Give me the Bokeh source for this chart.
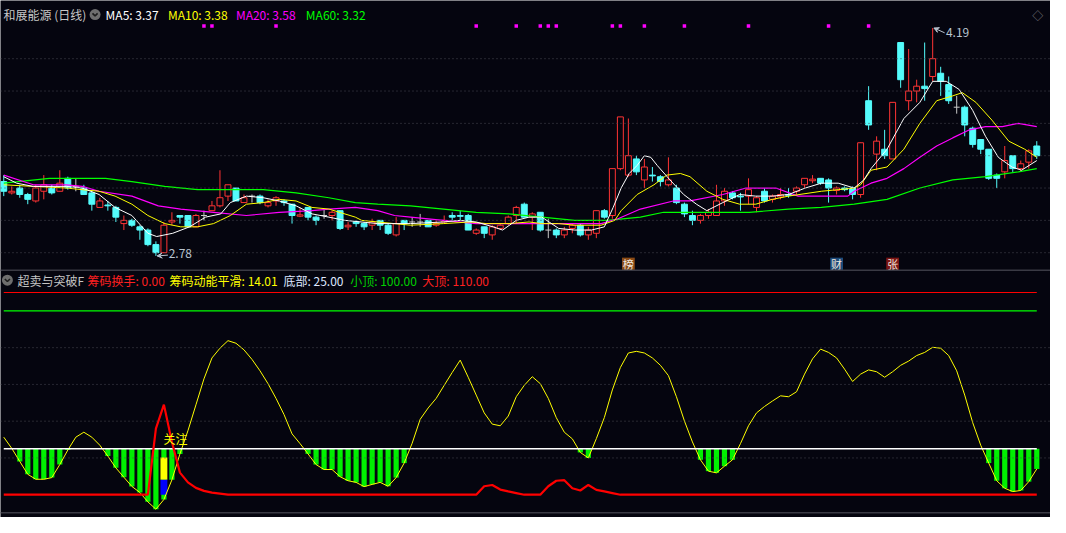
from bokeh.plotting import figure
from bokeh.models import Range1d, Label, Span, Arrow, VeeHead
from bokeh.embed import file_html
from bokeh.resources import INLINE
from bokeh.core.properties import value

# ---------------- data ----------------
open_ = [3.24, 3.17, 3.20, 3.16, 3.12, 3.18, 3.20, 3.18, 3.26, 3.21,
         3.20, 3.17, 3.08, 3.095, 3.08, 2.98, 3.00, 2.96, 2.94, 2.85,
         2.80, 2.99, 3.03, 3.03, 2.96, 3.03, 3.06, 3.09, 3.15, 3.20,
         3.11, 3.15, 3.15, 3.09, 3.12, 3.12, 3.10, 3.026, 3.08, 3.02,
         3.03, 3.03, 3.06, 2.96, 2.99, 2.98, 2.97, 3.00, 2.97, 2.91,
         3.00, 2.99, 2.99, 3.00, 2.97, 2.99, 3.03, 3.03, 3.03, 2.92,
         2.96, 2.91, 2.95, 2.98, 3.03, 3.10, 3.02, 3.05, 2.94, 2.94,
         2.91, 2.95, 2.97, 2.91, 2.92, 3.06, 3.03, 3.32, 3.28, 3.38,
         3.25, 3.28, 3.27, 3.22, 3.20, 3.10, 3.03, 3.00, 3.03, 3.03,
         3.12, 3.17, 3.15, 3.15, 3.08, 3.18, 3.13, 3.145, 3.16, 3.18,
         3.22, 3.245, 3.26, 3.25, 3.185, 3.20, 3.20, 3.16, 3.74, 3.41,
         3.44, 3.38, 4.10, 3.74, 3.80, 3.83, 3.89, 3.91, 3.84, 3.70,
         3.70, 3.57, 3.50, 3.44, 3.28, 3.30, 3.40, 3.32, 3.36, 3.46]
high = [3.28, 3.21, 3.22, 3.17, 3.22, 3.28, 3.22, 3.31, 3.27, 3.26,
        3.22, 3.18, 3.14, 3.12, 3.09, 3.03, 3.01, 2.97, 2.95, 2.87,
        2.99, 3.05, 3.03, 3.03, 3.04, 3.06, 3.12, 3.31, 3.22, 3.20,
        3.16, 3.16, 3.16, 3.13, 3.15, 3.13, 3.10, 3.08, 3.08, 3.03,
        3.07, 3.06, 3.06, 2.99, 3.00, 2.99, 3.01, 3.00, 2.98, 3.02,
        3.00, 3.02, 3.04, 3.00, 3.00, 3.03, 3.05, 3.06, 3.04, 2.95,
        2.96, 2.97, 2.98, 3.03, 3.09, 3.11, 3.05, 3.05, 3.01, 2.95,
        2.96, 2.98, 2.98, 2.96, 3.06, 3.07, 3.32, 3.64, 3.63, 3.40,
        3.38, 3.33, 3.28, 3.39, 3.22, 3.11, 3.06, 3.04, 3.07, 3.22,
        3.20, 3.18, 3.17, 3.26, 3.15, 3.20, 3.16, 3.20, 3.20, 3.21,
        3.26, 3.28, 3.26, 3.26, 3.21, 3.21, 3.21, 3.48, 3.83, 3.52,
        3.56, 3.73, 4.10, 4.06, 3.87, 4.10, 4.19, 3.95, 3.89, 3.77,
        3.71, 3.58, 3.50, 3.44, 3.29, 3.46, 3.40, 3.37, 3.44, 3.49]
low = [3.15, 3.16, 3.14, 3.10, 3.11, 3.13, 3.16, 3.18, 3.19, 3.18,
       3.16, 3.06, 3.08, 3.06, 2.99, 2.94, 2.96, 2.88, 2.84, 2.78,
       2.80, 2.97, 2.98, 2.96, 2.96, 3.00, 3.06, 3.08, 3.12, 3.12,
       3.11, 3.11, 3.10, 3.08, 3.09, 3.09, 2.98, 3.02, 3.00, 2.97,
       3.01, 3.00, 2.94, 2.94, 2.96, 2.94, 2.94, 2.94, 2.91, 2.90,
       2.94, 2.96, 2.96, 2.96, 2.96, 2.98, 3.00, 3.00, 2.94, 2.91,
       2.89, 2.88, 2.94, 2.97, 2.98, 3.02, 2.94, 2.93, 2.89, 2.89,
       2.89, 2.92, 2.90, 2.88, 2.89, 3.01, 3.01, 3.31, 3.27, 3.28,
       3.20, 3.24, 3.21, 3.21, 3.10, 3.02, 2.97, 2.98, 3.01, 3.03,
       3.09, 3.13, 3.06, 3.10, 3.05, 3.11, 3.11, 3.13, 3.14, 3.16,
       3.20, 3.23, 3.22, 3.11, 3.16, 3.18, 3.13, 3.14, 3.56, 3.31,
       3.38, 3.38, 3.82, 3.68, 3.73, 3.74, 3.86, 3.77, 3.72, 3.66,
       3.52, 3.45, 3.41, 3.25, 3.20, 3.26, 3.30, 3.30, 3.32, 3.38]
close = [3.18, 3.18, 3.16, 3.13, 3.20, 3.22, 3.17, 3.23, 3.20, 3.21,
         3.16, 3.10, 3.12, 3.09, 3.02, 3.00, 2.97, 2.94, 2.85, 2.80,
         2.97, 3.00, 3.02, 2.96, 3.03, 3.03, 3.09, 3.14, 3.22, 3.12,
         3.14, 3.15, 3.11, 3.11, 3.14, 3.11, 3.03, 3.034, 3.02, 3.00,
         3.03, 3.05, 2.95, 2.97, 2.98, 2.96, 2.99, 2.97, 2.92, 2.98,
         2.98, 2.99, 2.99, 2.96, 2.98, 3.00, 3.02, 3.025, 2.94, 2.94,
         2.92, 2.96, 2.97, 3.02, 3.08, 3.02, 3.04, 2.94, 2.94, 2.91,
         2.94, 2.97, 2.91, 2.94, 3.06, 3.02, 3.32, 3.64, 3.40, 3.30,
         3.33, 3.275, 3.24, 3.25, 3.11, 3.04, 3.00, 3.03, 3.05, 3.12,
         3.18, 3.14, 3.145, 3.19, 3.14, 3.12, 3.15, 3.16, 3.155, 3.20,
         3.26, 3.255, 3.23, 3.20, 3.20, 3.19, 3.16, 3.48, 3.59, 3.49,
         3.40, 3.73, 3.87, 3.80, 3.83, 3.815, 4.00, 3.86, 3.74, 3.70,
         3.59, 3.47, 3.44, 3.26, 3.26, 3.37, 3.32, 3.35, 3.43, 3.40]

ma5_x = [0, 1.6, 3.7, 7.8, 9.8, 11.9, 13.9, 16.0, 18.0, 19.1, 21.1, 23.2, 25.2, 27.1, 28.3,
         30.3, 32.4, 34.4, 36.5, 38.5, 40.6, 42.6, 46.7, 50.8, 54.9, 57.0, 59.0, 61.1, 62.3,
         64.0, 65.6, 67.2, 69.3, 71.3, 73.4, 75.0, 76.1, 77.1, 78.1, 79.1, 80.0, 80.8, 81.6,
         83.2, 84.9, 86.5, 87.8, 89.8, 91.9, 93.9, 96.0, 98.0, 100.1, 102.1, 104.2, 106.2,
         107.4, 108.3, 110.3, 112.4, 114.4, 116.0, 117.7, 119.3, 121.0, 122.6, 124.2, 125.9,
         127.1, 129.0]
ma5_y = [3.27, 3.23, 3.21, 3.21, 3.20, 3.16, 3.08, 3.03, 2.92, 2.90, 2.92, 2.96, 3.02, 3.04, 3.11,
         3.15, 3.14, 3.12, 3.09, 3.04, 3.02, 3.00, 2.98, 2.98, 2.99, 3.00, 2.99, 2.96, 2.94,
         3.00, 3.02, 3.02, 2.95, 2.94, 2.94, 2.96, 3.08, 3.20, 3.29, 3.34, 3.40, 3.39, 3.34,
         3.25, 3.16, 3.10, 3.06, 3.11, 3.16, 3.15, 3.15, 3.16, 3.20, 3.23, 3.23, 3.20,
         3.25, 3.32, 3.44, 3.63, 3.73, 3.86, 3.86, 3.81, 3.68, 3.52, 3.39, 3.33,
         3.31, 3.37]
ma10_x = [0, 3.7, 7.8, 9.8, 11.9, 13.9, 16.0, 18.0, 20.1, 22.1, 24.2, 26.2, 28.3, 30.3, 32.4,
          34.4, 36.5, 38.5, 40.6, 43.9, 44.7, 46.7, 50.8, 54.9, 58.2, 60.3, 63.1, 65.6, 67.2,
          69.3, 71.3, 74.6, 76.3, 77.1, 79.1, 81.2, 82.8, 84.5, 85.7, 87.8, 89.8, 91.9, 93.9,
          96.0, 98.0, 102.1, 104.2, 106.2, 107.0, 108.3, 110.3, 112.4, 114.4, 116.5, 118.5,
          119.7, 121.4, 123.4, 125.5, 127.5, 129.0]
ma10_y = [3.22, 3.21, 3.20, 3.19, 3.18, 3.15, 3.10, 3.03, 2.98, 2.96, 2.96, 2.98, 3.03, 3.10, 3.11,
          3.13, 3.12, 3.08, 3.07, 3.02, 3.00, 2.99, 2.97, 2.98, 2.99, 2.98, 2.98, 2.99, 2.98,
          2.98, 2.97, 2.97, 3.00, 3.06, 3.16, 3.22, 3.28, 3.29, 3.27, 3.18, 3.13, 3.10, 3.10,
          3.13, 3.15, 3.18, 3.19, 3.20, 3.22, 3.31, 3.33, 3.44, 3.60, 3.74, 3.77,
          3.79, 3.73, 3.62, 3.49, 3.44, 3.39]
ma20_x = [0, 3.7, 7.8, 9.8, 11.9, 16.0, 19.3, 22.1, 26.2, 30.3, 34.4, 38.5, 40.6, 43.9, 46.7,
          48.8, 50.8, 54.9, 59.0, 63.1, 67.2, 71.3, 74.6, 76.7, 79.5, 83.6, 85.7, 89.8, 92.7,
          96.4, 99.2, 105.4, 106.2, 108.3, 110.3, 112.4, 114.4, 116.5, 118.5, 120.6, 122.6,
          124.7, 126.7, 129.0]
ma20_y = [3.28, 3.22, 3.22, 3.21, 3.18, 3.15, 3.09, 3.07, 3.05, 3.03, 3.05, 3.06, 3.07, 3.08, 3.06,
          3.03, 3.02, 3.00, 2.98, 2.98, 2.98, 2.98, 2.98, 3.01, 3.07, 3.12, 3.12, 3.16, 3.20,
          3.20, 3.15, 3.15, 3.18, 3.23, 3.26, 3.32, 3.39, 3.46, 3.51, 3.56, 3.58,
          3.58, 3.60, 3.58]
ma60_x = [0, 5.7, 12.7, 16.0, 20.1, 24.2, 28.3, 32.4, 36.5, 40.6, 43.9, 46.7, 50.8, 54.9, 59.0,
          63.1, 67.2, 71.3, 75.4, 79.5, 82.4, 85.7, 93.1, 98.0, 102.1, 106.2, 110.3, 114.4,
          118.5, 122.6, 126.7, 129.0]
ma60_y = [3.23, 3.26, 3.26, 3.24, 3.21, 3.19, 3.19, 3.19, 3.17, 3.14, 3.11, 3.10, 3.09, 3.07, 3.05,
          3.04, 3.02, 3.00, 3.00, 3.02, 3.05, 3.05, 3.05, 3.07, 3.08, 3.10, 3.13, 3.20,
          3.25, 3.27, 3.30, 3.32]

# indicator panel: 筹码动能平滑 (yellow) and 筹码换手 (red)
chip = [31.3, 25.2, 18.1, 11.1, 8.4, 8.4, 9.3, 16.4, 24.3, 31.3,
        34.0, 31.3, 26.9, 21.0, 14.6, 9.5, 4.5, 1.2, -3.9, -7.9,
        -2.6, 8.1, 22.2, 34.8, 48.9, 63.0, 74.4, 79.7, 83.8, 82.4,
        78.8, 73.6, 67.4, 60.4, 52.4, 43.6, 33.1, 27.8, 22.2, 16.4,
        13.7, 13.7, 9.8, 7.6, 6.7, 4.4, 5.6, 6.7, 4.6, 9.3,
        17.2, 28.0, 41.0, 47.2, 52.4, 59.5, 66.5, 73.2, 63.9, 54.2,
        44.5, 38.4, 37.5, 42.8, 53.3, 59.5, 64.2, 60.4, 52.4, 41.9,
        34.0, 30.4, 23.0, 20.0, 30.5, 42.0, 57.0, 69.2, 77.1, 78.0,
        77.1, 74.4, 70.4, 64.8, 53.3, 40.1, 28.7, 19.0, 12.8, 11.9,
        15.5, 19.0, 27.8, 37.5, 44.5, 48.0, 51.0, 53.8, 53.3, 56.0,
        65.6, 73.9, 79.2, 77.4, 74.4, 68.3, 61.6, 65.6, 67.9, 66.9,
        63.9, 66.9, 70.4, 72.7, 75.7, 77.4, 80.2, 79.7, 75.7, 67.4,
        54.2, 39.2, 26.9, 17.2, 7.6, 3.5, 1.7, 2.3, 7.1, 14.01]
turnover = [0, 0, 0, 0, 0, 0, 0, 0, 0, 0,
            0, 0, 0, 0, 0, 0, 0, 0, 0, 36.0,
            49.0, 28.7, 12.0, 6.7, 3.7, 2.1, 1.1, 0.6, 0, 0,
            0, 0, 0, 0, 0, 0, 0, 0, 0, 0,
            0, 0, 0, 0, 0, 0, 0, 0, 0, 0,
            0, 0, 0, 0, 0, 0, 0, 0, 0, 0,
            4.6, 5.3, 2.8, 1.8, 0.9, 0, 0, 0, 4.6, 7.6,
            7.9, 3.5, 2.3, 5.3, 2.6, 1.8, 0.9, 0, 0, 0,
            0, 0, 0, 0, 0, 0, 0, 0, 0, 0,
            0, 0, 0, 0, 0, 0, 0, 0, 0, 0,
            0, 0, 0, 0, 0, 0, 0, 0, 0, 0,
            0, 0, 0, 0, 0, 0, 0, 0, 0, 0,
            0, 0, 0, 0, 0, 0, 0, 0, 0, 0]
bottom_level = 25.0
small_top = 100.0
big_top = 110.0
alert_idx = [20]
alert_top = [20.2]
alert_mid = [8.1]

signal_dots = [25, 26, 34, 59, 64, 67, 68, 69, 76, 77, 80, 85, 93, 103, 108]
marker_idx = [78, 104, 111]
marker_txt = ["榜", "财", "张"]
marker_bg = ["#8a4a16", "#1d4a7a", "#7a1414"]

grid_prices = [2.8, 3.0, 3.2, 3.4, 3.6, 3.8, 4.0]
grid_ind = [20, 40, 60, 80]

title_stock = "和展能源 (日线)"
ma_labels = [("MA5: 3.37", "#ffffff", 106.7), ("MA10: 3.38", "#ffff00", 170),
             ("MA20: 3.58", "#ff00ff", 239), ("MA60: 3.32", "#00ff00", 310)]
ind_labels = [("超卖与突破F", "#c4c4c4", 17.3), ("筹码换手: 0.00", "#ff2020", 88.3),
              ("筹码动能平滑: 14.01", "#ffff00", 171.7), ("底部: 25.00", "#dfe8ff", 287.3),
              ("小顶: 100.00", "#00d000", 355), ("大顶: 110.00", "#ff2020", 428.3)]

# ---------------- geometry ----------------
BG = "#05050f"
RED = "#ff3434"
CYAN = "#54fcfc"
FONT = "Noto Sans CJK SC"
REF_W, REF_H = 1066, 533
W, H = 1050, 517
X0 = -3.3 / 8.13
X1 = (REF_W - 3.3) / 8.13
P_TOP = 4.36
P_BOT = P_TOP - 0.006 * REF_H
V_TOP = 509.5 / 1.895
V_BOT = (509.5 - REF_H) / 1.895


def px2x(px):
    return X0 + px * (X1 - X0) / REF_W


def py2p(py):
    return P_TOP - py * (P_TOP - P_BOT) / REF_H


n = len(close)
idx = list(range(n))

p = figure(width=W, height=H, x_range=Range1d(X0, X1), y_range=Range1d(P_BOT, P_TOP),
           output_backend="svg", toolbar_location=None,
           x_axis_location=None, y_axis_location=None, min_border=0,
           background_fill_color=BG, border_fill_color=BG, outline_line_color=None)
p.extra_y_ranges = {"ind": Range1d(V_BOT, V_TOP)}
p.grid.visible = False
p.title.visible = False

# grid lines
for gp in grid_prices:
    p.add_layout(Span(location=gp, dimension="width", line_color="#4a4a55",
                      line_width=1, line_dash="1 3"))
for gv in grid_ind:
    p.add_layout(Span(location=gv, dimension="width", y_range_name="ind",
                      line_color="#4a4a55", line_width=1, line_dash="1 3"))
for sep in (278, 528):
    p.add_layout(Span(location=py2p(sep), dimension="width", line_color="#3a3a44", line_width=1.5))

# candles
up = [i for i in idx if close[i] > open_[i]]
dn = [i for i in idx if close[i] < open_[i]]
eq = [i for i in idx if close[i] == open_[i]]
BW = 0.74

p.segment(x0=dn, y0=[high[i] for i in dn], x1=dn, y1=[low[i] for i in dn], line_color=CYAN, line_width=1)
p.vbar(x=dn, width=BW, top=[open_[i] for i in dn], bottom=[close[i] for i in dn],
       fill_color=CYAN, line_color=CYAN, line_width=1)
p.segment(x0=up, y0=[high[i] for i in up], x1=up, y1=[low[i] for i in up], line_color=RED, line_width=1)
p.vbar(x=up, width=BW, top=[close[i] for i in up], bottom=[open_[i] for i in up],
       fill_color=BG, line_color=RED, line_width=1)
p.segment(x0=eq, y0=[high[i] for i in eq], x1=eq, y1=[low[i] for i in eq], line_color="#c8c8c8", line_width=1)
p.segment(x0=[i - BW / 2 for i in eq], y0=[close[i] for i in eq], x1=[i + BW / 2 for i in eq],
          y1=[close[i] for i in eq], line_color="#c8c8c8", line_width=1)

# moving averages
p.line(ma60_x, ma60_y, line_color="#00ff00", line_width=1.2)
p.line(ma20_x, ma20_y, line_color="#ff00ff", line_width=1.2)
p.line(ma10_x, ma10_y, line_color="#ffff00", line_width=1)
p.line(ma5_x, ma5_y, line_color="#ffffff", line_width=1)

# signal dots on top
p.scatter(x=signal_dots, y=[py2p(26.3)] * len(signal_dots), marker="square", size=3.5,
          fill_color="#ff00ff", line_color=None)

# high / low annotations
hi_i = max(idx, key=lambda i: high[i])
lo_i = min(idx, key=lambda i: low[i])
p.add_layout(Arrow(end=VeeHead(size=5, line_color="#b8c4d0", fill_color="#b8c4d0"),
                   x_start=hi_i + 1.5, y_start=high[hi_i] - 0.03, x_end=hi_i + 0.15, y_end=high[hi_i],
                   line_color="#b8c4d0", line_width=1))
p.add_layout(Label(x=hi_i + 1.65, y=high[hi_i] - 0.03, text=f"{high[hi_i]:.2f}", text_color="#b8c4d0",
                   text_font=FONT, text_font_size="12px", text_baseline="middle", text_align="left"))
p.add_layout(Arrow(end=VeeHead(size=5, line_color="#b8c4d0", fill_color="#b8c4d0"),
                   x_start=lo_i + 1.5, y_start=low[lo_i] + 0.005, x_end=lo_i + 0.15, y_end=low[lo_i],
                   line_color="#b8c4d0", line_width=1))
p.add_layout(Label(x=lo_i + 1.6, y=low[lo_i] + 0.013, text=f"{low[lo_i]:.2f}", text_color="#b8c4d0",
                   text_font=FONT, text_font_size="12px", text_baseline="middle", text_align="left"))

# event markers at the bottom of the price panel
my = py2p(271.6)
p.rect(x=marker_idx, y=[my] * len(marker_idx), width=13 / 8.13, height=13 * 0.006,
       fill_color=marker_bg, line_color=None)
p.text(x=marker_idx, y=[my] * len(marker_idx), text=marker_txt, text_color="#f2e8de",
       text_font=value(FONT), text_font_size="11px", text_align="center", text_baseline="middle")

# ---------------- indicator panel ----------------
low_idx = [i for i in idx if chip[i] < bottom_level]
p.vbar(x=low_idx, width=0.65, top=bottom_level, bottom=[chip[i] for i in low_idx],
       fill_color="#00f000", line_color=None, y_range_name="ind")
p.vbar(x=alert_idx, width=0.86, top=alert_top, bottom=alert_mid, fill_color="#ffff00",
       line_color=None, y_range_name="ind")
p.vbar(x=alert_idx, width=0.86, top=alert_mid, bottom=0, fill_color="#0000ff",
       line_color=None, y_range_name="ind")
p.line(idx, chip, line_color="#ffff00", line_width=1, y_range_name="ind")
p.line(idx, [bottom_level] * n, line_color="#ffffff", line_width=1.5, y_range_name="ind")
p.line(idx, [small_top] * n, line_color="#00ff00", line_width=1.2, y_range_name="ind")
p.line(idx, [big_top] * n, line_color="#ff0000", line_width=1.2, y_range_name="ind")
p.line(idx, turnover, line_color="#ff0000", line_width=2.2, y_range_name="ind")
p.add_layout(Label(x=alert_idx[0] - 0.05, y=(509.5 - 452) / 1.895, y_range_name="ind", text="关注",
                   text_color="#ffff00", text_font=FONT, text_font_size="12px",
                   text_baseline="middle", text_align="left"))

# ---------------- headers ----------------
def hlabel(txt, color, px, py, size="12px", align="left"):
    p.add_layout(Label(x=px2x(px), y=py2p(py), text=txt, text_color=color, text_font=FONT,
                       text_font_size=size, text_baseline="middle", text_align=align))


def icon(px, py):
    p.scatter(x=[px2x(px)], y=[py2p(py)], marker="circle", size=11, fill_color="#6e6e6e", line_color=None)
    p.line([px2x(px - 2.6), px2x(px), px2x(px + 2.6)], [py2p(py - 1.2), py2p(py + 1.4), py2p(py - 1.2)],
           line_color="#1c1c1c", line_width=1.6)


hlabel(title_stock, "#c8c8c8", 3, 14.5)
icon(96, 14.5)
for t, c, x in ma_labels:
    hlabel(t, c, x, 14.5)
hlabel("◇", "#8a8a8a", 1053, 15, size="11px", align="center")

icon(7, 288.3)
for t, c, x in ind_labels:
    hlabel(t, c, x, 288.3)

open("out.html", "w").write(file_html(p, INLINE))
